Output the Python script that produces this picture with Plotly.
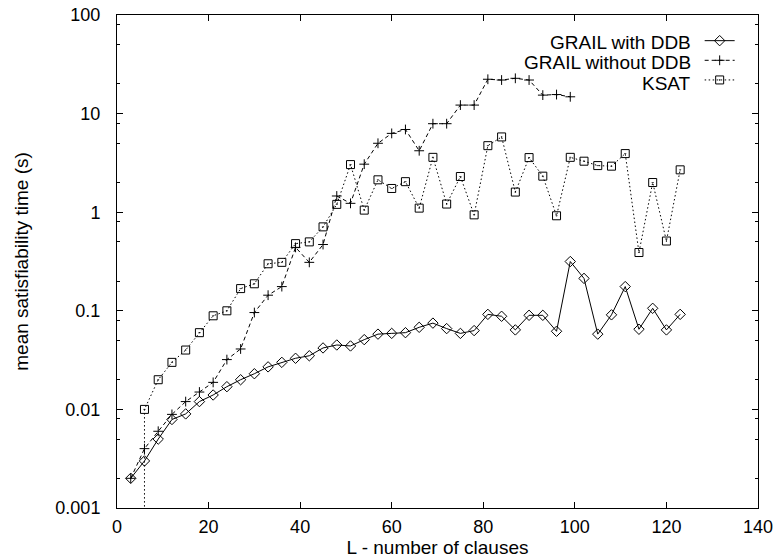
import plotly.graph_objects as go

# ---------------- data ----------------
ddb_x = [3, 6, 9, 12, 15, 18, 21, 24, 27, 30, 33, 36, 39, 42, 45, 48, 51, 54, 57, 60,
         63, 66, 69, 72, 75, 78, 81, 84, 87, 90, 93, 96, 99, 102, 105, 108, 111, 114, 117, 120, 123]
ddb_y = [0.002, 0.003, 0.005, 0.0079, 0.009, 0.012, 0.014, 0.017, 0.02, 0.023, 0.027, 0.030,
         0.033, 0.035, 0.042, 0.045, 0.044, 0.051, 0.058, 0.059, 0.060, 0.068, 0.075, 0.066,
         0.059, 0.063, 0.092, 0.088, 0.064, 0.090, 0.090, 0.062, 0.316, 0.213, 0.058, 0.091,
         0.176, 0.065, 0.106, 0.064, 0.092]

noddb_x = [3, 6, 9, 12, 15, 18, 21, 24, 27, 30, 33, 36, 39, 42, 45, 48, 51, 54, 57, 60,
           63, 66, 69, 72, 75, 78, 81, 84, 87, 90, 93, 96, 99]
noddb_y = [0.002, 0.004, 0.006, 0.0089, 0.012, 0.015, 0.0188, 0.032, 0.041, 0.096, 0.144, 0.176,
           0.44, 0.31, 0.47, 1.46, 1.23, 3.07, 5.0, 6.3, 6.9, 4.2, 7.9, 7.9, 12.2, 12.2,
           22.3, 21.9, 22.8, 21.9, 15.4, 15.6, 14.8]

ksat_x = [6, 6, 9, 12, 15, 18, 21, 24, 27, 30, 33, 36, 39, 42, 45, 48, 51, 54, 57, 60,
          63, 66, 69, 72, 75, 78, 81, 84, 87, 90, 93, 96, 99, 102, 105, 108, 111, 114, 117, 120, 123]
ksat_y = [0.0001, 0.01, 0.02, 0.03, 0.04, 0.06, 0.089, 0.1, 0.168, 0.188, 0.30, 0.31, 0.48, 0.50,
          0.71, 1.2, 3.04, 1.05, 2.13, 1.74, 2.04, 1.1, 3.6, 1.21, 2.3, 0.94, 4.73, 5.8,
          1.6, 3.58, 2.32, 0.92, 3.6, 3.29, 2.97, 2.93, 3.93, 0.39, 2.0, 0.51, 2.69]

series_names = ["GRAIL with DDB", "GRAIL without DDB", "KSAT"]

y_tickvals = [0.001, 0.01, 0.1, 1, 10, 100]
y_ticktext = ["0.001", "0.01", "0.1", "1", "10", "100"]
y_minor = [m * 10 ** e for e in range(-3, 2) for m in (2, 5, 8)]
x_tickvals = [0, 20, 40, 60, 80, 100, 120, 140]

FONT = "Liberation Sans, Arial, Helvetica, sans-serif"

fig = go.Figure()
fig.add_trace(go.Scatter(
    x=ddb_x, y=ddb_y, mode="lines+markers", name=" ",
    line=dict(color="black", width=1, dash="solid"),
    marker=dict(symbol="diamond-open", size=8, color="black", line=dict(width=1, color="black")),
))
fig.add_trace(go.Scatter(
    x=noddb_x, y=noddb_y, mode="lines+markers", name=" ",
    line=dict(color="black", width=1, dash="4px,3px"),
    marker=dict(symbol="cross-thin-open", size=7, color="black", line=dict(width=1, color="black")),
))
fig.add_trace(go.Scatter(
    x=ksat_x, y=ksat_y, mode="lines+markers", name=" ",
    line=dict(color="black", width=1, dash="1.5px,2.5px"),
    marker=dict(symbol="square-open-dot", size=8, color="black", line=dict(width=1, color="black")),
))

# legend labels (gnuplot style: text right-aligned, sample on the right)
for i, nm in enumerate(series_names):
    fig.add_annotation(
        xref="paper", yref="paper", x=0.899, y=0.945 - i * 0.0415,
        xanchor="right", yanchor="middle", text=nm, showarrow=False,
        font=dict(family=FONT, size=19, color="black"),
    )

fig.update_layout(
    width=776, height=558,
    margin=dict(l=117, r=18, t=15, b=50, autoexpand=False),
    paper_bgcolor="white", plot_bgcolor="white",
    font=dict(family=FONT, size=19, color="black"),
    showlegend=True,
    legend=dict(x=0.909, y=0.978, xanchor="left", yanchor="top",
                bgcolor="rgba(0,0,0,0)", borderwidth=0,
                font=dict(family=FONT, size=12.8), itemwidth=30, tracegroupgap=0),
)
fig.update_xaxes(
    range=[0, 140], tickvals=x_tickvals, showgrid=False, zeroline=False, automargin=False,
    showline=True, linecolor="black", linewidth=1, mirror="allticks",
    ticks="inside", ticklen=6, tickwidth=1, tickcolor="black",
    tickfont=dict(family=FONT, size=18), ticklabelstandoff=2, ticklabeloverflow="allow",
    title=dict(text="L - number of clauses", font=dict(family=FONT, size=19), standoff=0),
)
fig.update_yaxes(
    type="log", range=[-3, 2], tickvals=y_tickvals, ticktext=y_ticktext,
    showgrid=False, zeroline=False, automargin=False,
    showline=True, linecolor="black", linewidth=1, mirror="allticks",
    ticks="inside", ticklen=6, tickwidth=1, tickcolor="black",
    tickfont=dict(family=FONT, size=18), ticklabelstandoff=12, ticklabeloverflow="allow",
    minor=dict(tickvals=y_minor, ticks="inside", ticklen=3, tickwidth=1, tickcolor="black", showgrid=False),
    title=dict(text="mean satisfiability time (s)", font=dict(family=FONT, size=19), standoff=21),
)

# remove the default 8px page margin so the figure sits at the window's top-left corner
fig.write_html("out.html", config={"displayModeBar": False},
               post_script="document.body.style.margin='0';")
